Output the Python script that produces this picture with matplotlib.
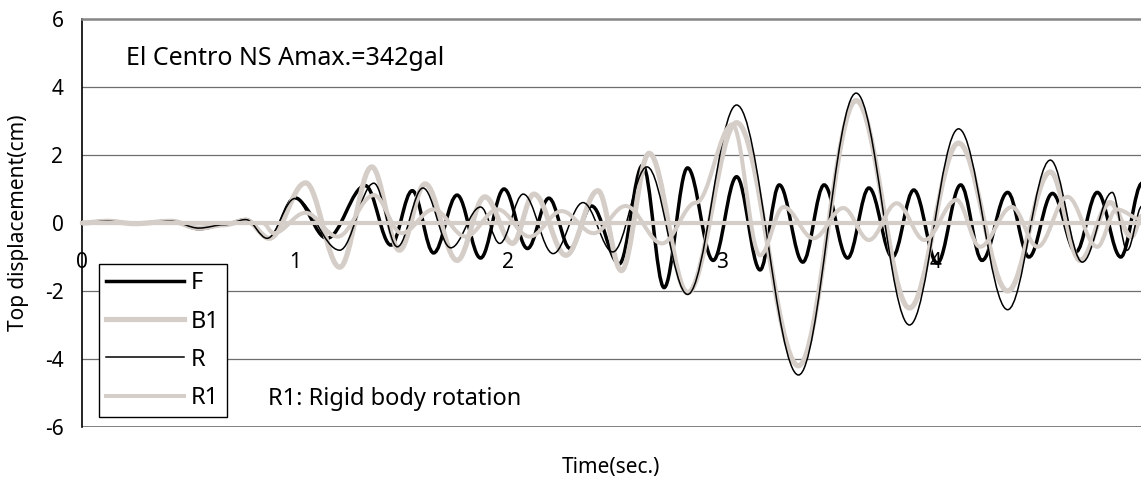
import numpy as np
import matplotlib.pyplot as plt
from matplotlib.path import Path
from matplotlib.patches import PathPatch
from matplotlib.lines import Line2D

plt.rcParams['font.family'] = ['Noto Sans', 'DejaVu Sans']
plt.rcParams['axes.unicode_minus'] = False

# Peaks and troughs (time s, displacement cm)
f_t = [0.0, 0.12, 0.25, 0.42, 0.55, 0.67, 0.77, 0.88, 1.0, 1.15, 1.33, 1.45, 1.55, 1.65, 1.76,
       1.87, 1.98, 2.09, 2.19, 2.29, 2.39, 2.52, 2.63, 2.73, 2.84, 2.96, 3.07, 3.18, 3.27,
       3.38, 3.48, 3.59, 3.69, 3.80, 3.90, 4.01, 4.12, 4.22, 4.34, 4.44, 4.55, 4.66, 4.76,
       4.87, 4.97]
f_v = [0.0, 0.06, -0.02, 0.06, -0.17, -0.05, 0.1, -0.45, 0.74, -0.45, 1.1, -0.65, 0.95, -0.88, 0.82,
       -1.03, 1.0, -0.75, 0.73, -0.75, 0.5, -1.2, 1.7, -1.9, 1.62, -1.1, 1.36, -1.38, 1.12,
       -1.15, 1.12, -1.03, 1.03, -1.0, 0.97, -1.18, 1.12, -1.1, 0.9, -1.0, 0.87, -0.85, 0.9,
       -1.0, 1.17]

b1_t = [0.0, 0.12, 0.25, 0.42, 0.55, 0.67, 0.77, 0.88, 1.05, 1.21, 1.36, 1.49, 1.61, 1.76,
        1.89, 2.02, 2.12, 2.27, 2.42, 2.53, 2.66, 2.84, 3.07, 3.36, 3.63, 3.88, 4.11, 4.34,
        4.54, 4.68, 4.82, 4.92, 4.97]
b1_v = [0.0, 0.05, -0.02, 0.05, -0.15, -0.05, 0.08, -0.45, 1.18, -1.3, 1.65, -0.8, 1.15, -1.1,
        0.77, -0.6, 0.85, -0.95, 0.95, -1.4, 2.05, -2.05, 2.95, -4.2, 3.6, -2.5, 2.35, -2.0,
        1.5, -1.1, 0.6, -0.4, 0.2]

r_t = [0.0, 0.12, 0.25, 0.42, 0.55, 0.67, 0.77, 0.87, 1.0, 1.21, 1.37, 1.48, 1.60, 1.73,
       1.87, 1.96, 2.07, 2.21, 2.35, 2.49, 2.65, 2.84, 3.07, 3.36, 3.63, 3.88, 4.11, 4.34,
       4.54, 4.69, 4.83, 4.90, 4.97]
r_v = [0.0, 0.05, -0.02, 0.05, -0.15, -0.05, 0.1, -0.45, 0.72, -0.8, 1.17, -0.7, 1.03, -0.73,
       0.47, -0.6, 0.85, -0.9, 0.6, -0.85, 1.65, -2.1, 3.47, -4.47, 3.82, -3.0, 2.77, -2.55,
       1.85, -1.15, 0.9, -0.8, 0.5]

r1_t = [0.0, 0.85, 0.9, 1.05, 1.2, 1.37, 1.5, 1.65, 1.8, 1.95, 2.1, 2.25, 2.4, 2.55, 2.72,
        2.88, 3.05, 3.18, 3.29, 3.43, 3.57, 3.69, 3.82, 3.95, 4.1, 4.21, 4.36, 4.48, 4.62,
        4.76, 4.85, 4.97]
r1_v = [0.0, 0.0, -0.3, 0.3, -0.4, 0.82, -0.3, 0.4, -0.4, 0.4, -0.4, 0.35, -0.3, 0.5, -0.6,
        0.6, 2.9, -0.95, 0.47, -0.45, 0.44, -0.5, 0.58, -0.5, 0.68, -0.7, 0.47, -0.7, 0.77,
        -0.7, 0.4, 0.1]

names = ['F', 'B1', 'R', 'R1']
colors = ['black', '#d5cdc7', 'black', '#d5cdc7']
widths = [2.5, 3.7, 1.1, 2.9]


def wave(ts, vs, k=0.36):
    # smooth curve through the extrema, flat at every peak
    verts = [(ts[0], vs[0])]
    codes = [Path.MOVETO]
    for i in range(1, len(ts)):
        dt = ts[i] - ts[i - 1]
        verts += [(ts[i - 1] + k * dt, vs[i - 1]), (ts[i] - k * dt, vs[i]), (ts[i], vs[i])]
        codes += [Path.CURVE4] * 3
    return Path(verts, codes)


W, H = 1141, 478
fig = plt.figure(figsize=(W / 100, H / 100), dpi=100)
ax = fig.add_axes([81.5 / W, (H - 427) / H, (W - 81.5) / W, 408 / H])

series = [(f_t, f_v), (b1_t, b1_v), (r_t, r_v), (r1_t, r1_v)]
for (ts, vs), c, lw in zip(series, colors, widths):
    ax.add_patch(PathPatch(wave(ts, vs), fill=False, edgecolor=c, lw=lw, zorder=3))

ax.set_xlim(0, (W - 81.5) / 213.4)
ax.set_ylim(-6, 6)
ax.set_yticks(np.arange(-6, 7, 2))
ax.set_xticks([0, 1, 2, 3, 4])
for y in [-4, -2, 2, 4]:
    ax.axhline(y, color='#6e6e6e', lw=0.9, zorder=1)
ax.axhline(-6, color='#808080', lw=1.4, zorder=1)

ax.spines['right'].set_visible(False)
ax.spines['top'].set_color('#858585')
ax.spines['top'].set_linewidth(1.8)
ax.spines['left'].set_color('black')
ax.spines['left'].set_linewidth(1.2)
ax.spines['bottom'].set_position(('data', 0))
ax.spines['bottom'].set_color('#d5cdc7')
ax.spines['bottom'].set_linewidth(3.0)
ax.spines['bottom'].set_zorder(4)

ax.tick_params(axis='y', length=0, pad=13, labelsize=15)
ax.tick_params(axis='x', length=0, pad=21, labelsize=15)

fig.text(19 / W, 1 - 223 / H, 'Top displacement(cm)', rotation=90, ha='center', va='center', fontsize=15)
fig.text(611 / W, 1 - 468 / H, 'Time(sec.)', ha='center', va='center', fontsize=15)
fig.text(126 / W, 1 - 65 / H, 'El Centro NS Amax.=342gal', ha='left', va='baseline', fontsize=18)
fig.text(268 / W, 1 - 405 / H, 'R1: Rigid body rotation', ha='left', va='baseline', fontsize=17)

handles = [Line2D([], [], color=c, lw=lw) for c, lw in zip(colors, widths)]
leg = ax.legend(handles, names, loc='lower left', bbox_to_anchor=(99 / W, (H - 417) / H),
                bbox_transform=fig.transFigure, borderaxespad=0, fontsize=17, frameon=True,
                fancybox=False, edgecolor='black', framealpha=1, handlelength=3.3,
                handletextpad=0.3, labelspacing=0.6, borderpad=0.3)
leg.get_frame().set_linewidth(1.0)
leg.set_zorder(5)

fig.savefig('out.png', dpi=100)
